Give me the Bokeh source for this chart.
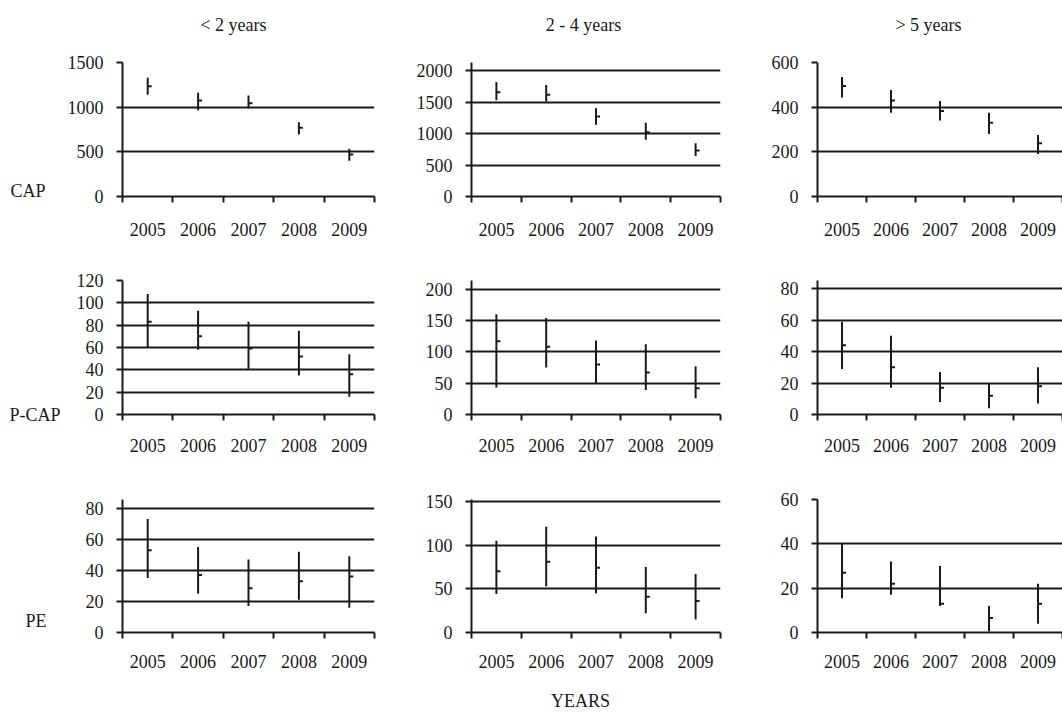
from bokeh.plotting import figure
from bokeh.layouts import column, row
from bokeh.models import FactorRange, Range1d, LinearAxis, FixedTicker, ColumnDataSource
from bokeh.embed import file_html
from bokeh.resources import INLINE

# ---------------- data ----------------
years = ["2005", "2006", "2007", "2008", "2009"]
col_titles = ["< 2 years", "2 - 4 years", "> 5 years"]
row_titles = ["CAP", "P-CAP", "PE"]
x_title = "YEARS"

cap_lt2_high = [1330, 1160, 1130, 830, 535]
cap_lt2_low = [1140, 965, 985, 695, 400]
cap_lt2_close = [1235, 1075, 1045, 770, 470]

cap_2to4_high = [1820, 1770, 1400, 1170, 845]
cap_2to4_low = [1530, 1510, 1140, 900, 645]
cap_2to4_close = [1655, 1615, 1270, 1020, 730]

cap_gt5_high = [535, 477, 428, 375, 275]
cap_gt5_low = [443, 375, 340, 280, 190]
cap_gt5_close = [495, 430, 383, 330, 238]

pcap_lt2_high = [108, 93, 83, 75, 54]
pcap_lt2_low = [60, 58, 41, 35, 16]
pcap_lt2_close = [83, 70, 59, 52, 36]

pcap_2to4_high = [160, 154, 118, 112, 77]
pcap_2to4_low = [43, 75, 49, 39, 26]
pcap_2to4_close = [117, 108, 80, 67, 42]

pcap_gt5_high = [59, 50, 27, 20, 30]
pcap_gt5_low = [29, 17, 8, 4, 7]
pcap_gt5_close = [44, 30, 17, 12, 18]

pe_lt2_high = [73, 55, 47, 52, 49]
pe_lt2_low = [35, 25, 17, 21, 16]
pe_lt2_close = [53, 37, 28.5, 33, 36]

pe_2to4_high = [105, 121, 110, 75, 67]
pe_2to4_low = [44, 53, 45, 22, 15]
pe_2to4_close = [70, 81, 74, 41, 36]

pe_gt5_high = [40, 32, 30, 12, 22]
pe_gt5_low = [15.5, 17, 12, 0.5, 4]
pe_gt5_close = [27, 22, 13, 6.5, 13]

cap_lt2_ticks = [0, 500, 1000, 1500]
cap_2to4_ticks = [0, 500, 1000, 1500, 2000]
cap_gt5_ticks = [0, 200, 400, 600]
pcap_lt2_ticks = [0, 20, 40, 60, 80, 100, 120]
pcap_2to4_ticks = [0, 50, 100, 150, 200]
pcap_gt5_ticks = [0, 20, 40, 60, 80]
pe_lt2_ticks = [0, 20, 40, 60, 80]
pe_2to4_ticks = [0, 50, 100, 150]
pe_gt5_ticks = [0, 20, 40, 60]

# ---------------- style / layout ----------------
FONT = "Liberation Serif"
INK = "#1a1a1a"
FS = "18px"

col_specs = [(380, 122, 6), (345, 91, 5), (337, 92, 0)]     # width, border left, border right
row_specs = [(250, 62, 54), (218, 30, 54), (245, 31, 79)]   # height, border top, border bottom
headroom = [[1.0, 1.064, 1.0], [1.0, 1.07, 1.065], [1.07, 1.015, 1.0]]
year_standoff = [20, 18, 16]
row_label_px = [6, 0, 12]           # label centre above frame bottom (px)
row_label_standoff = [19, 13, 36]
col_title_px = [111, 112, 111]      # title centre from frame left (px)
col_title_standoff = 28
x_title_px = 109
x_title_standoff = 20

panels = [
    [(cap_lt2_high, cap_lt2_low, cap_lt2_close, cap_lt2_ticks),
     (cap_2to4_high, cap_2to4_low, cap_2to4_close, cap_2to4_ticks),
     (cap_gt5_high, cap_gt5_low, cap_gt5_close, cap_gt5_ticks)],
    [(pcap_lt2_high, pcap_lt2_low, pcap_lt2_close, pcap_lt2_ticks),
     (pcap_2to4_high, pcap_2to4_low, pcap_2to4_close, pcap_2to4_ticks),
     (pcap_gt5_high, pcap_gt5_low, pcap_gt5_close, pcap_gt5_ticks)],
    [(pe_lt2_high, pe_lt2_low, pe_lt2_close, pe_lt2_ticks),
     (pe_2to4_high, pe_2to4_low, pe_2to4_close, pe_2to4_ticks),
     (pe_gt5_high, pe_gt5_low, pe_gt5_close, pe_gt5_ticks)],
]


def style_text(ax):
    ax.major_label_text_font = FONT
    ax.major_label_text_font_size = FS
    ax.major_label_text_color = INK


def text_axis(p, side, pos, text, standoff):
    """An axis without line or ticks whose single tick label carries a text."""
    ax = LinearAxis(ticker=FixedTicker(ticks=[pos], minor_ticks=[]))
    ax.major_label_overrides = {pos: text}
    ax.axis_line_color = None
    ax.major_tick_line_color = None
    ax.minor_tick_line_color = None
    ax.major_tick_out = 0
    ax.major_tick_in = 0
    ax.major_label_standoff = standoff
    style_text(ax)
    p.add_layout(ax, side)


def make_panel(high, low, close, ticks, y_end, w, h, bl, br, bt, bb, ystand):
    p = figure(width=w, height=h, x_range=FactorRange(*years, range_padding=0),
               y_range=Range1d(0, y_end), output_backend="svg", toolbar_location=None,
               x_axis_location=None, min_border_left=bl, min_border_right=br,
               min_border_top=bt, min_border_bottom=bb)
    p.outline_line_color = None
    p.background_fill_color = "white"
    p.border_fill_color = "white"
    p.xgrid.visible = False

    # y axis + horizontal grid
    p.yaxis.ticker = FixedTicker(ticks=ticks)
    p.yaxis.minor_tick_line_color = None
    p.yaxis.major_tick_out = 6
    p.yaxis.major_tick_in = 0
    p.yaxis.major_tick_line_color = INK
    p.yaxis.major_tick_line_width = 2
    p.yaxis.axis_line_color = INK
    p.yaxis.axis_line_width = 2
    p.yaxis.major_label_standoff = 13
    style_text(p.yaxis[0])
    p.ygrid.grid_line_color = INK
    p.ygrid.grid_line_width = 2

    # x axis on the factor range's synthetic coordinates:
    # tick marks at category boundaries, labels at category centres
    n = len(years)
    centers = [i + 0.5 for i in range(n)]
    xa = LinearAxis(ticker=FixedTicker(ticks=centers, minor_ticks=list(range(n + 1))))
    xa.major_label_overrides = {c: yr for c, yr in zip(centers, years)}
    xa.major_tick_out = 0
    xa.major_tick_in = 0
    xa.minor_tick_out = 6
    xa.minor_tick_in = 0
    xa.minor_tick_line_color = INK
    xa.minor_tick_line_width = 2
    xa.axis_line_color = INK
    xa.axis_line_width = 2
    xa.major_label_standoff = ystand
    style_text(xa)
    p.add_layout(xa, "below")

    src = ColumnDataSource(dict(year=years, high=high, low=low, close=close))
    p.segment(x0="year", y0="low", x1="year", y1="high", source=src,
              line_color=INK, line_width=2)
    p.ray(x="year", y="close", length=4, length_units="screen", angle=0,
          source=src, line_color=INK, line_width=2)
    return p


rows = []
for r, (h, bt, bb) in enumerate(row_specs):
    figs = []
    for c, (w, bl, br) in enumerate(col_specs):
        hi, lo, cl, tk = panels[r][c]
        y_end = tk[-1] * headroom[r][c]
        p = make_panel(hi, lo, cl, tk, y_end, w, h, bl, br, bt, bb, year_standoff[r])
        frame_w = w - bl - br
        frame_h = h - bt - bb
        if r == 0:
            text_axis(p, "above", col_title_px[c] / frame_w * len(years), col_titles[c],
                      col_title_standoff)
        if c == 0:
            text_axis(p, "left", row_label_px[r] / frame_h * y_end, row_titles[r],
                      row_label_standoff[r])
        if r == 2 and c == 1:
            text_axis(p, "below", x_title_px / frame_w * len(years), x_title, x_title_standoff)
        figs.append(p)
    rows.append(row(*figs, spacing=0))

layout = column(*rows, spacing=0)
open("out.html", "w").write(file_html(layout, INLINE))
